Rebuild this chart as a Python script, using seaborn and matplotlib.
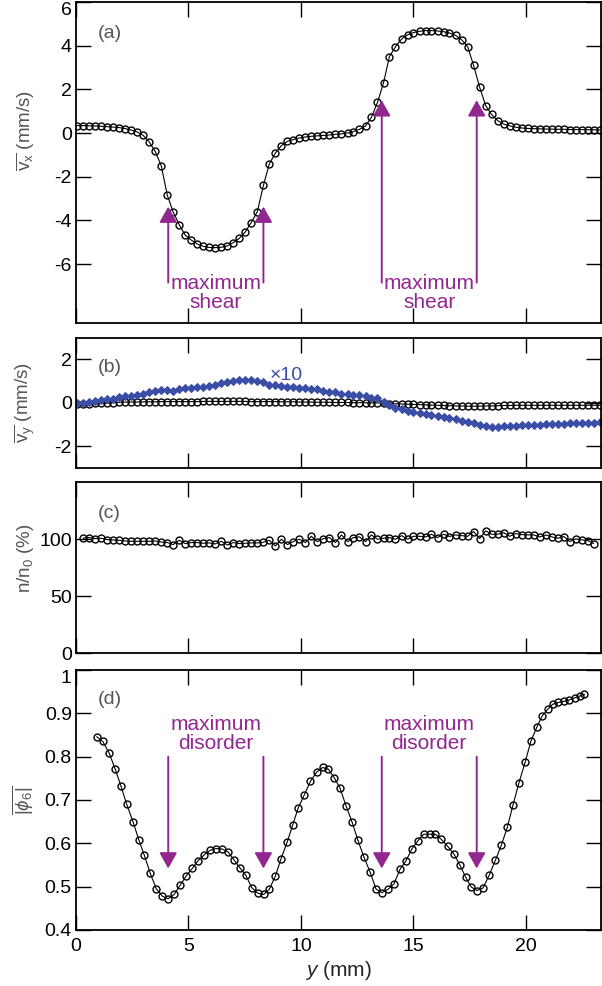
import matplotlib
matplotlib.use("Agg")
import matplotlib.pyplot as plt
import seaborn as sns
import numpy as np

# ---------------- data ----------------
y_grid = [0.05, 0.32, 0.58, 0.85, 1.12, 1.39, 1.65, 1.92, 2.19, 2.45,
          2.72, 2.99, 3.25, 3.52, 3.79, 4.06, 4.32, 4.59, 4.86, 5.12,
          5.39, 5.66, 5.92, 6.19, 6.46, 6.73, 6.99, 7.26, 7.53, 7.79,
          8.06, 8.33, 8.59, 8.86, 9.13, 9.40, 9.66, 9.93, 10.20, 10.46,
          10.73, 11.00, 11.26, 11.53, 11.80, 12.07, 12.33, 12.60, 12.87, 13.13,
          13.40, 13.67, 13.93, 14.20, 14.47, 14.74, 15.00, 15.27, 15.54, 15.80,
          16.07, 16.34, 16.60, 16.87, 17.14, 17.41, 17.67, 17.94, 18.21, 18.47,
          18.74, 19.01, 19.27, 19.54, 19.81, 20.08, 20.34, 20.61, 20.88, 21.14,
          21.41, 21.68, 21.94, 22.21, 22.48, 22.75, 23.01, 23.28]

vx = [0.34, 0.34, 0.33, 0.32, 0.31, 0.29, 0.27, 0.25, 0.20, 0.14,
      0.05, -0.11, -0.40, -0.84, -1.50, -2.85, -3.62, -4.20, -4.68, -4.90,
      -5.08, -5.19, -5.24, -5.25, -5.23, -5.17, -5.02, -4.82, -4.52, -4.10,
      -3.60, -2.40, -1.42, -0.92, -0.58, -0.38, -0.30, -0.23, -0.18, -0.15,
      -0.13, -0.11, -0.09, -0.06, -0.04, 0.00, 0.06, 0.17, 0.32, 0.72,
      1.40, 2.30, 3.50, 3.95, 4.30, 4.50, 4.60, 4.66, 4.69, 4.69,
      4.67, 4.64, 4.58, 4.47, 4.27, 3.95, 3.10, 2.10, 1.25, 0.85,
      0.57, 0.41, 0.33, 0.27, 0.23, 0.21, 0.20, 0.19, 0.18, 0.18,
      0.17, 0.17, 0.16, 0.16, 0.16, 0.15, 0.15, 0.14]

vy = [-0.04, -0.04, -0.04, -0.03, -0.03, -0.02, 0.00, 0.02, 0.03, 0.03,
      0.03, 0.04, 0.04, 0.04, 0.05, 0.05, 0.05, 0.05, 0.05, 0.05,
      0.05, 0.06, 0.06, 0.06, 0.06, 0.06, 0.06, 0.06, 0.06, 0.05,
      0.05, 0.05, 0.05, 0.05, 0.04, 0.04, 0.04, 0.03, 0.03, 0.03,
      0.02, 0.02, 0.02, 0.01, 0.01, 0.01, 0.00, 0.00, 0.00, -0.01,
      -0.01, -0.02, -0.04, -0.05, -0.06, -0.07, -0.08, -0.09, -0.10, -0.11,
      -0.12, -0.13, -0.14, -0.15, -0.15, -0.16, -0.16, -0.16, -0.15, -0.15,
      -0.14, -0.13, -0.13, -0.12, -0.12, -0.12, -0.12, -0.12, -0.12, -0.12,
      -0.12, -0.12, -0.12, -0.12, -0.12, -0.12, -0.12, -0.12]

vy_x10 = [-0.03, 0.00, 0.03, 0.08, 0.12, 0.15, 0.19, 0.24, 0.29, 0.32,
          0.36, 0.42, 0.49, 0.54, 0.58, 0.60, 0.52, 0.65, 0.66, 0.68,
          0.71, 0.72, 0.77, 0.82, 0.90, 0.95, 0.99, 1.03, 1.06, 1.04,
          0.98, 0.95, 0.83, 0.82, 0.76, 0.74, 0.71, 0.69,
          0.66, 0.65, 0.62, 0.54, 0.51, 0.48, 0.41, 0.42, 0.37, 0.34,
          0.30, 0.22, 0.20, 0.03, -0.10, -0.24, -0.30, -0.37, -0.43, -0.49,
          -0.53, -0.56, -0.62, -0.67, -0.71, -0.77, -0.83, -0.89, -0.95, -1.01,
          -1.06, -1.10, -1.10, -1.08, -1.08, -1.06, -1.04, -1.03, -1.02, -1.02,
          -1.00, -0.99, -0.98, -0.97, -0.96, -0.95, -0.95, -0.93, -0.92, -0.89]

density_pct = [101.0, 101.5, 100.6, 100.9, 99.7, 99.4, 99.1, 98.5, 98.2, 98.2,
               98.2, 98.2, 98.5, 97.6, 97.1, 95.3, 99.1, 96.2, 97.1, 97.1,
               96.5, 96.8, 95.9, 98.2, 95.0, 97.1, 96.2, 96.5, 96.8, 96.8,
               97.4, 99.1, 94.1, 100.0, 95.3, 98.0,
               100.0, 97.1, 102.6, 97.9, 100.6, 101.5, 97.1, 103.8, 97.9, 101.5,
               102.1, 97.9, 103.8, 100.0, 100.9, 101.5, 100.0, 103.2, 100.0, 102.6,
               102.6, 102.1, 104.4, 101.5, 104.4, 102.4, 103.8, 103.2, 102.6, 106.8,
               100.6, 107.4, 104.4, 104.4, 105.9, 102.6, 105.0, 104.1, 103.8, 103.8,
               102.1, 103.8, 102.1, 100.9, 102.4, 97.9, 100.3, 99.5, 98.8, 96.2]
density_y = y_grid[1:87]

phi_y = [0.92, 1.19, 1.47, 1.74, 2.00, 2.25, 2.54, 2.80, 3.04, 3.30,
         3.57, 3.84, 4.09, 4.36, 4.64, 4.90, 5.17, 5.42, 5.69, 5.96,
         6.22, 6.49, 6.76, 7.02, 7.29, 7.54, 7.81, 8.07, 8.34, 8.59,
         8.86, 9.11, 9.38, 9.63, 9.88, 10.15, 10.42, 10.69, 10.96, 11.22,
         11.48, 11.73, 12.00, 12.27, 12.53, 12.80, 13.07, 13.33, 13.59, 13.87,
         14.14, 14.40, 14.67, 14.93, 15.18, 15.45, 15.72, 15.97, 16.24, 16.52,
         16.79, 17.05, 17.32, 17.57, 17.82, 18.09, 18.36, 18.64, 18.90, 19.17,
         19.42, 19.69, 19.96, 20.22, 20.49, 20.72, 20.96, 21.19, 21.44, 21.70,
         21.93, 22.18, 22.40, 22.60]
phi6 = [0.846, 0.835, 0.809, 0.772, 0.732, 0.691, 0.649, 0.607, 0.572, 0.531,
        0.495, 0.478, 0.472, 0.482, 0.504, 0.525, 0.542, 0.560, 0.573, 0.584,
        0.588, 0.587, 0.580, 0.562, 0.543, 0.527, 0.498, 0.485, 0.482, 0.494,
        0.524, 0.564, 0.602, 0.642, 0.682, 0.712, 0.743, 0.764, 0.775, 0.771,
        0.751, 0.728, 0.687, 0.649, 0.607, 0.568, 0.534, 0.495, 0.486, 0.494,
        0.507, 0.540, 0.560, 0.587, 0.605, 0.621, 0.621, 0.621, 0.609, 0.593,
        0.576, 0.551, 0.522, 0.499, 0.491, 0.497, 0.526, 0.561, 0.595, 0.637,
        0.688, 0.740, 0.787, 0.836, 0.869, 0.894, 0.909, 0.921, 0.925, 0.928,
        0.931, 0.936, 0.940, 0.944]

shear_left = [4.10, 8.33]
shear_right = [13.59, 17.81]

x_ticks = [0, 5, 10, 15, 20]
a_ticks = [-6, -4, -2, 0, 2, 4, 6]
b_ticks = [-2, 0, 2]
c_ticks = [0, 50, 100]
d_ticks = [0.4, 0.5, 0.6, 0.7, 0.8, 0.9, 1.0]
d_ticklabels = ["0.4", "0.5", "0.6", "0.7", "0.8", "0.9", "1"]

# ---------------- style ----------------
sns.set_style("ticks")
plt.rcParams["font.family"] = ["Liberation Sans", "DejaVu Sans"]
plt.rcParams["mathtext.fontset"] = "custom"
plt.rcParams["mathtext.rm"] = "Liberation Sans"
plt.rcParams["mathtext.it"] = "Liberation Sans:italic"
plt.rcParams["mathtext.bf"] = "Liberation Sans:bold"
plt.rcParams["axes.unicode_minus"] = False

PURPLE = "#91278f"
BLUE = "#3b4ea6"
GRAY = "#555555"

fig = plt.figure(figsize=(6.02, 9.86), dpi=100)
L, W = 0.1262, 0.872
ax_a = fig.add_axes([L, 0.6724, W, 0.3256])
ax_b = fig.add_axes([L, 0.5257, W, 0.1318])
ax_c = fig.add_axes([L, 0.3377, W, 0.1731])
ax_d = fig.add_axes([L, 0.0568, W, 0.2637])

circ = dict(color="black", linewidth=0.8, marker="o", markersize=5,
            markerfacecolor="none", markeredgecolor="black",
            markeredgewidth=1.0, estimator=None, sort=False)

sns.lineplot(x=y_grid, y=vx, ax=ax_a, **circ)
sns.lineplot(x=y_grid, y=vy, ax=ax_b, **circ)
sns.lineplot(x=y_grid, y=vy_x10, ax=ax_b, color=BLUE, linewidth=0.8,
             marker="D", markersize=4.2, markerfacecolor=BLUE,
             markeredgecolor=BLUE, estimator=None, sort=False)
sns.lineplot(x=density_y, y=density_pct, ax=ax_c, **circ)
sns.lineplot(x=phi_y, y=phi6, ax=ax_d, **circ)


def style(ax, ylim, yticks, ylabels=None, xlabels=False, top_label_down=False):
    ax.set_xlim(0, 23.33)
    ax.set_ylim(*ylim)
    ax.set_xticks(x_ticks)
    ax.set_yticks(yticks)
    if ylabels is not None:
        ax.set_yticklabels(ylabels)
    if not xlabels:
        ax.set_xticklabels([])
    ax.tick_params(direction="in", top=True, right=True, length=11,
                   width=1.0, labelsize=14, colors="black")
    ax.tick_params(axis="y", pad=3)
    ax.tick_params(axis="x", pad=6)
    for s in ax.spines.values():
        s.set_visible(True)
        s.set_linewidth(1.3)
        s.set_color("black")
    if top_label_down:
        ax.get_yticklabels()[-1].set_va("top")


style(ax_a, (-8.7, 6.0), a_ticks, top_label_down=True)
style(ax_b, (-3, 3), b_ticks)
style(ax_c, (0, 150), c_ticks)
style(ax_d, (0.4, 1.0), d_ticks, d_ticklabels, xlabels=True,
      top_label_down=True)

# y labels
ylab_kw = dict(fontsize=13.5, color=GRAY)
ax_a.set_ylabel(r"$\overline{\mathrm{v}_\mathrm{x}}$ (mm/s)", **ylab_kw)
ax_b.set_ylabel(r"$\overline{\mathrm{v}_\mathrm{y}}$ (mm/s)", **ylab_kw)
ax_c.set_ylabel(r"n/n$_\mathrm{0}$ (%)", **ylab_kw)
ax_d.set_ylabel(r"$\overline{|\phi_6|}$", **ylab_kw)
for ax, (lx, ly) in zip([ax_a, ax_b, ax_c, ax_d],
                        [(-0.095, 0.60), (-0.099, 0.50),
                         (-0.097, 0.556), (-0.102, 0.50)]):
    ax.yaxis.label.set_va("center")
    ax.yaxis.set_label_coords(lx, ly)

ax_d.set_xlabel(r"$y$ (mm)", fontsize=15, labelpad=3)

# panel tags
for ax, tag, ty in zip([ax_a, ax_b, ax_c, ax_d], ["(a)", "(b)", "(c)", "(d)"],
                       [0.903, 0.769, 0.82, 0.887]):
    ax.text(0.041, ty, tag, transform=ax.transAxes, fontsize=14,
            color=GRAY, ha="left", va="center")

ax_b.text(8.62, 1.25, "\u00d710", color=BLUE, fontsize=14, ha="left",
          va="center")

arrow_kw = dict(arrowstyle="-|>,head_length=0.8,head_width=0.45",
                color=PURPLE, lw=1.4, mutation_scale=12,
                shrinkA=0, shrinkB=0)

# panel a arrows (pointing up)
for xs in shear_left:
    ax_a.annotate("", xy=(xs, -3.37), xytext=(xs, -6.85), arrowprops=arrow_kw)
for xs in shear_right:
    ax_a.annotate("", xy=(xs, 1.50), xytext=(xs, -6.85), arrowprops=arrow_kw)
for pair in (shear_left, shear_right):
    ax_a.text(sum(pair) / 2, -7.32, "maximum\nshear", color=PURPLE,
              fontsize=15, ha="center", va="center", linespacing=1.05)

# panel d arrows (pointing down)
for xs in shear_left + shear_right:
    ax_d.annotate("", xy=(xs, 0.542), xytext=(xs, 0.80), arrowprops=arrow_kw)
for pair in (shear_left, shear_right):
    ax_d.text(sum(pair) / 2, 0.8525, "maximum\ndisorder", color=PURPLE,
              fontsize=15, ha="center", va="center", linespacing=1.05)

fig.savefig("out.png", dpi=100)
